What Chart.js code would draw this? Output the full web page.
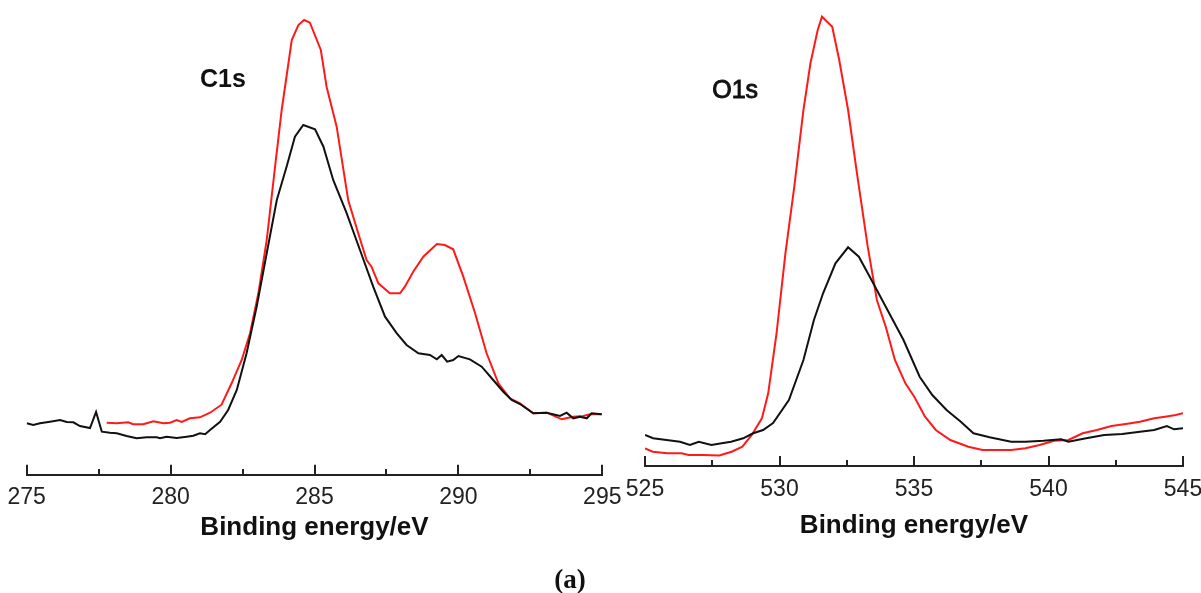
<!DOCTYPE html>
<html>
<head>
<meta charset="utf-8">
<script src="https://cdn.jsdelivr.net/npm/chart.js@4.4.1/dist/chart.umd.min.js"></script>
<style>
body { margin: 0; background: #fff; width: 1201px; height: 593px; overflow: hidden; position: relative; }
.box { position: absolute; top: 0; height: 593px; }
#box_c1s { left: 0; width: 640px; }
#box_o1s { left: 622px; width: 600px; }
#caption { position: absolute; left: 520px; top: 564px; width: 100px; line-height: 30px;
	text-align: center; font: bold 27px "Liberation Serif", "Times New Roman", serif; color: #111; }
</style>
</head>
<body>
<div class="box" id="box_c1s"><canvas id="chart_c1s"></canvas></div>
<div class="box" id="box_o1s"><canvas id="chart_o1s"></canvas></div>
<div id="caption">(a)</div>
<script>
// ----------------------------------------------------------------------
//	XPS spectra  C1s / O1s   (intensity in arbitrary units)
// ----------------------------------------------------------------------
const c1s_black_ev = [275.0,275.23,275.46,275.81,276.16,276.39,276.62,276.85,277.2,277.41,
	277.61,277.89,278.13,278.47,278.82,279.17,279.52,279.63,279.86,280.21,280.56,280.79,
	281.02,281.2,281.37,281.72,282.0,282.3,282.64,282.99,283.34,283.69,284.03,284.32,
	284.61,285.02,285.31,285.65,286.12,286.58,287.04,287.45,287.86,288.2,288.61,289.01,
	289.25,289.42,289.61,289.82,290.0,290.4,290.81,291.21,291.56,291.85,292.14,292.6,
	293.07,293.53,293.76,293.99,294.22,294.46,294.63,294.98]
const c1s_black_int = [51.4,49.7,51.4,53,54.7,52.7,52.4,48.7,46.7,62.7,
	43,42,41.4,38.7,36.4,37.4,37.4,36.4,38,36.7,38,39,
	41.4,40.4,44.7,53,64.7,84.7,121.4,168,221.4,274.7,308,338,
	349.7,345.4,328,294.7,261.4,224.7,188,158,141.4,129.7,121.4,119.7,
	115.4,119.7,113,114.7,118.7,115.4,108,94.7,83,74.7,70.7,61.4,
	62,58.7,62,56.4,58,56.4,61.4,60.4]

const c1s_red_ev = [277.78,278.13,278.53,278.7,279.05,279.4,279.75,279.98,280.21,280.39,
	280.67,281.02,281.37,281.77,282.12,282.47,282.76,283.05,283.34,283.63,283.86,284.21,
	284.44,284.64,284.84,285.22,285.42,285.77,286.17,286.52,286.81,286.98,287.22,287.62,
	287.97,288.14,288.43,288.78,289.25,289.53,289.82,290.17,290.58,290.98,291.39,291.79,
	292.14,292.6,293.07,293.59,293.99,294.34,294.57,294.98]
const c1s_red_int = [52,51.4,52.4,50.4,50.4,53.4,51.4,52,54.7,52.7,
	56.4,57.4,62,70,91.4,114.7,141.4,181.4,234.7,308,364.7,434.7,
	449.7,454.7,452,424.7,388,348,274.7,241.4,214.7,208,191.4,181.4,
	181.4,188,203,218,230.7,229.7,225.4,198,161.4,121.4,91.4,76.4,
	71.4,61.4,62,55.4,58,58.7,60.4,60.4]

const o1s_black_ev = [525.0,525.3,525.8,526.3,526.67,527.0,527.47,527.85,528.2,528.65,
	529.02,529.39,529.76,530.35,530.89,531.28,531.62,532.08,532.55,532.95,533.42,533.95,
	534.61,535.21,535.68,536.21,536.74,537.21,537.81,538.61,539.14,539.81,540.47,540.74,
	541.4,542.07,542.74,543.4,543.93,544.4,544.67,545.0]
const o1s_black_int = [31,27.7,26,24.3,21,24.3,21,22.7,24.3,27.7,
	32.7,36,43,66,106,146,172.7,202.7,218.7,209.3,186,159.3,
	126,89.3,71,56,44.3,32.7,28.7,24.3,24.3,25.3,26.7,24.3,
	27.7,31,32,34.3,36,40,36.7,37.7]

const o1s_red_ev = [525.0,525.29,525.83,526.36,526.62,527.16,527.76,528.22,528.62,528.97,
	529.35,529.58,529.89,530.22,530.55,530.89,531.15,531.42,531.58,531.96,532.22,532.55,
	532.88,533.28,533.62,533.95,534.29,534.68,535.01,535.41,535.81,536.35,537.02,537.55,
	538.08,538.61,539.14,539.67,540.21,540.74,541.27,541.8,542.34,542.87,543.4,543.93,
	544.33,544.73,545.0]
const o1s_red_int = [17.7,14.3,12.7,12.7,11,11,10.5,14.3,19.3,31,
	48,72.7,132.7,212.7,279.3,356,402.7,436,449.3,439.3,406,356,
	292.7,219.3,166,139.3,106,82.7,69.3,49.3,36,26,19.3,16,
	16,16,17.7,21,25.3,26,32.7,36,40,42,44.3,47.7,
	49.3,51,52.7]

const c1s_ticks = [275, 295]
const o1s_ticks = [525, 545]

const c1s_label = ["C1s", 281.82, 394.7]
const o1s_label = ["O1s", 528.35, 375]

// ----------------------------------------------------------------------
function to_points (evs, ints)
{
	var points = []
	for (var it in evs)
		{
		points.push ({x: evs[it], y: ints[it]})
		}
	return points
}

// ----------------------------------------------------------------------
// peak name written at a data position
const peak_label = {
	id: 'peak_label',
	afterDatasetsDraw (chart, args, opts)
	{
		const ctx = chart.ctx
		const xx = chart.scales.x.getPixelForValue (opts.label[1])
		const yy = chart.scales.y.getPixelForValue (opts.label[2])
		ctx.save ()
		ctx.font = opts.font
		ctx.fillStyle = '#111'
		ctx.strokeStyle = '#111'
		ctx.textAlign = 'center'
		ctx.textBaseline = 'middle'
		ctx.fillText (opts.label[0], xx, yy)
		if (opts.stroke)
			{
			ctx.lineWidth = opts.stroke
			ctx.strokeText (opts.label[0], xx, yy)
			}
		ctx.restore ()
	}
}

// ----------------------------------------------------------------------
// ticks point up into the plot; the label offset comes from the line height
// (ticks.padding would also widen the side margins)
function make_chart (canvas_id, black, red, range, label, label_font, lay)
{
	const tick_font = {family: '"Liberation Sans", Arial', size: 23, lineHeight: lay.tick_lh}
	const title_font = {family: '"Liberation Sans", Arial', size: 26, weight: 'bold'}

	const config = {
		type: 'line',
		data: {
			datasets: [
				{data: black, borderColor: '#111', borderWidth: 2, pointRadius: 0, tension: 0},
				{data: red, borderColor: '#ff1a1a', borderWidth: 2, pointRadius: 0, tension: 0}
				]
			},
		options: {
			responsive: true,
			maintainAspectRatio: false,
			animation: false,
			events: [],
			layout: {padding: lay.padding},
			plugins: {
				legend: {display: false},
				tooltip: {enabled: false},
				peak_label: {label: label, font: label_font, stroke: lay.label_stroke}
				},
			scales: {
				x: {
					type: 'linear',
					min: range[0], max: range[1],
					border: {display: true, color: '#222', width: 2},
					grid: {drawOnChartArea: false, drawTicks: true, tickLength: -10,
						color: '#222', lineWidth: 2},
					ticks: {stepSize: 5, padding: 0, color: '#222',
						font: tick_font, maxRotation: 0, autoSkip: false},
					title: {display: true, text: 'Binding energy/eV', color: '#111',
						font: title_font, padding: {top: lay.title_pad, bottom: 0}}
					},
				xm: {
					type: 'linear',
					position: {y: 0},
					min: range[0], max: range[1],
					border: {display: false},
					grid: {drawOnChartArea: false, drawTicks: true, tickLength: -6,
						color: '#222', lineWidth: 2},
					ticks: {stepSize: 2.5, display: false}
					},
				y: {
					display: false,
					min: 0, max: lay.y_max
					}
				}
			},
		plugins: [peak_label]
		}

	return new Chart (document.getElementById (canvas_id), config)
}

// ----------------------------------------------------------------------
make_chart ('chart_c1s',
	to_points (c1s_black_ev, c1s_black_int),
	to_points (c1s_red_ev, c1s_red_int),
	c1s_ticks, c1s_label, 'bold 25px "Liberation Sans", Arial',
	{padding: {left: 26.7, right: 37.7, top: 0, bottom: 49.4},
		tick_lh: 66.6 / 23, title_pad: -18.9, y_max: 474.7, label_stroke: 0})

make_chart ('chart_o1s',
	to_points (o1s_black_ev, o1s_black_int),
	to_points (o1s_red_ev, o1s_red_int),
	o1s_ticks, o1s_label, '25px "Liberation Sans", Arial',
	{padding: {left: 23, right: 39, top: 0, bottom: 51.4},
		tick_lh: 68 / 23, title_pad: -13.6, y_max: 466, label_stroke: 0.9})

// ----------------------------------------------------------------------
</script>
</body>
</html>
